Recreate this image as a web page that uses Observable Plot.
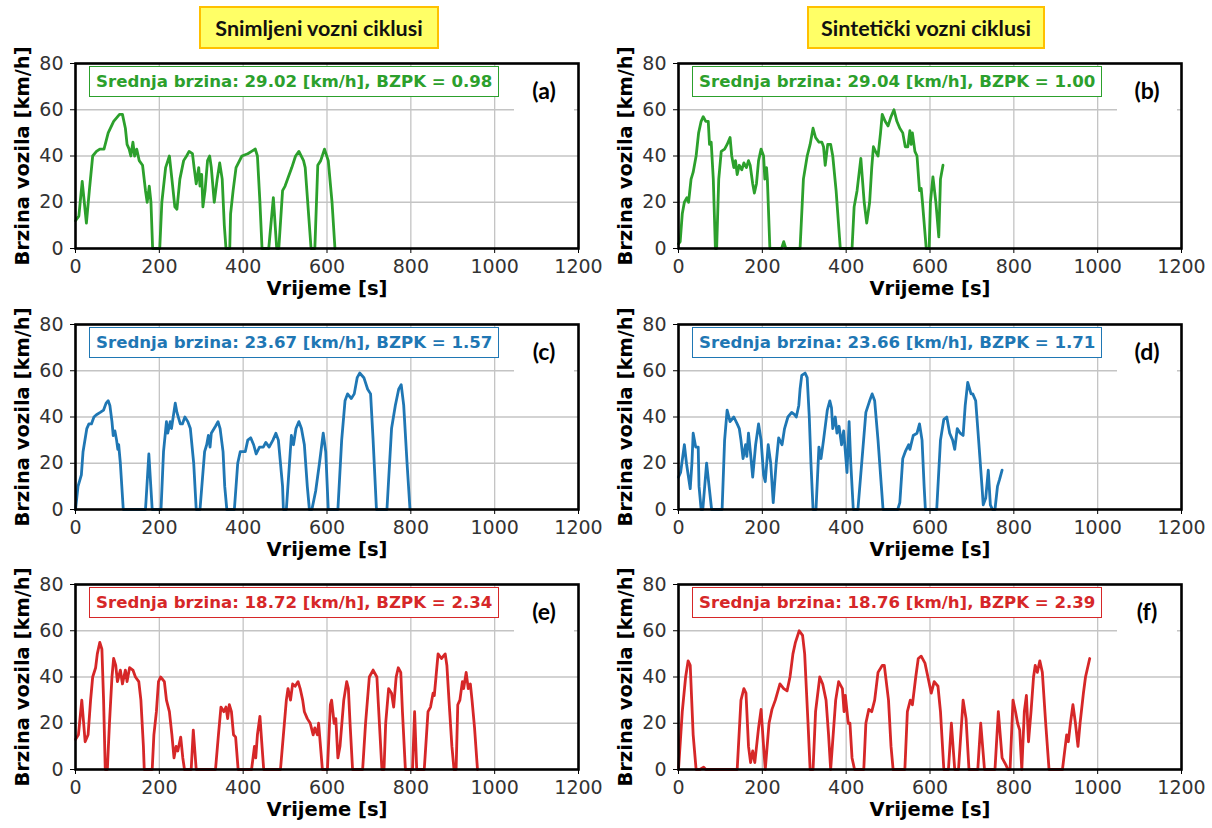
<!DOCTYPE html>
<html><head><meta charset="utf-8">
<script src="https://cdn.jsdelivr.net/npm/d3@7"></script>
<script src="https://cdn.jsdelivr.net/npm/@observablehq/plot@0.6"></script>
<style>
body{margin:0;background:#fff;}
#root{position:relative;width:1212px;height:828px;overflow:hidden;font-family:"DejaVu Sans";}
.hdr{position:absolute;top:6px;height:43px;box-sizing:border-box;border:2px solid #ffc000;background:#ffff66;font-family:Lato;font-weight:bold;font-size:21.5px;color:#111;display:flex;align-items:center;justify-content:center;}
.panel{position:absolute;}
.stat{position:absolute;background:#fff;border:1.5px solid;font-family:"DejaVu Sans";font-weight:bold;font-size:16.6px;height:31px;line-height:29px;box-sizing:border-box;padding:0 6px;white-space:nowrap;}
.tag{position:absolute;background:#fff;font-family:Lato;font-weight:bold;font-size:23px;color:#000;display:flex;align-items:center;justify-content:center;}
</style></head>
<body><div id="root"></div>
<script>
// ---- data (time [s], speed [km/h]) ----
const cycleA = [[0,12],[8,14],[16,29],[21,20],[26,11],[33,25],[41,40],[50,42],[58,43],[68,43],[78,50],[91,55],[105,58],[112,58],[119,52],[123,45],[128,43],[132,40],[137,46],[141,40],[146,43],[152,38],[160,36],[167,25],[171,20],[176,27],[180,20],[184,0],[201,0],[206,20],[215,35],[224,40],[230,30],[237,18],[242,17],[249,30],[258,38],[265,40],[271,42],[279,41],[283,35],[288,28],[294,35],[297,27],[301,32],[304,18],[309,25],[315,38],[320,40],[324,35],[331,20],[338,30],[344,37],[350,30],[355,10],[359,0],[368,0],[370,15],[376,25],[383,35],[397,40],[411,41],[420,42],[429,43],[434,40],[440,20],[445,0],[461,0],[472,22],[480,0],[485,0],[494,25],[500,27],[516,35],[525,40],[533,42],[544,38],[548,35],[562,0],[571,0],[578,36],[585,38],[594,43],[603,38],[612,20],[619,0]];
const cycleB = [[0,2],[4,3],[9,15],[14,20],[20,22],[24,20],[30,30],[35,33],[42,40],[48,50],[54,55],[59,57],[65,55],[71,55],[74,45],[78,46],[83,30],[88,0],[91,0],[96,30],[102,42],[110,43],[116,45],[123,48],[127,40],[132,35],[136,38],[140,32],[145,36],[151,34],[156,37],[162,35],[167,38],[171,36],[177,28],[181,24],[186,28],[191,38],[197,43],[203,40],[206,30],[210,35],[212,30],[218,0],[246,0],[251,3],[256,0],[290,0],[298,30],[307,40],[314,45],[321,52],[327,48],[335,46],[342,46],[346,44],[350,36],[356,45],[363,45],[368,40],[376,25],[386,0],[414,0],[419,18],[426,25],[435,39],[443,20],[449,11],[456,20],[461,35],[465,44],[470,42],[476,40],[482,50],[486,58],[493,55],[500,53],[507,57],[514,60],[521,55],[528,52],[535,50],[541,44],[547,44],[552,51],[555,45],[558,50],[564,42],[569,40],[575,25],[579,26],[582,20],[591,0],[598,0],[601,20],[607,31],[614,20],[621,5],[625,30],[631,36]];
const cycleC = [[0,0],[6,10],[14,15],[18,25],[27,35],[32,37],[38,37],[44,40],[50,41],[59,42],[67,43],[73,46],[78,47],[82,45],[87,38],[90,32],[94,34],[98,30],[101,26],[103,28],[107,20],[114,0],[167,0],[175,24],[183,0],[204,0],[210,25],[217,38],[220,33],[226,38],[229,35],[238,46],[242,42],[250,37],[255,37],[261,40],[268,38],[274,35],[282,20],[288,0],[297,0],[308,25],[313,28],[317,32],[321,27],[324,33],[334,36],[340,38],[345,35],[352,25],[356,10],[361,0],[379,0],[387,20],[393,25],[405,25],[411,30],[418,31],[425,28],[431,24],[439,27],[448,27],[454,29],[462,27],[471,30],[478,33],[484,30],[494,10],[496,0],[503,0],[515,32],[520,28],[526,35],[533,38],[539,35],[546,28],[553,10],[558,0],[564,0],[573,8],[582,20],[591,33],[597,25],[603,0],[626,0],[635,30],[643,47],[649,50],[658,48],[665,50],[672,57],[678,59],[688,57],[697,52],[704,50],[710,30],[718,0],[743,0],[754,35],[763,45],[771,52],[777,54],[783,45],[791,20],[798,0]];
const cycleD = [[0,14],[5,16],[14,28],[19,20],[23,15],[28,9],[32,20],[35,33],[41,27],[47,27],[49,10],[54,0],[58,0],[67,20],[73,10],[79,0],[104,0],[110,30],[116,43],[123,38],[132,40],[140,37],[145,35],[149,30],[154,22],[160,28],[163,23],[167,33],[172,24],[177,14],[184,28],[191,37],[197,30],[203,15],[207,12],[214,28],[220,20],[226,3],[233,20],[239,31],[247,28],[253,35],[261,40],[270,42],[277,41],[281,40],[287,45],[290,52],[294,58],[302,59],[307,57],[312,40],[316,20],[321,0],[328,0],[335,27],[340,22],[346,30],[355,43],[361,47],[365,44],[368,35],[374,40],[378,33],[383,36],[389,28],[394,34],[398,25],[402,16],[407,38],[411,20],[417,0],[428,0],[447,42],[456,47],[462,50],[468,47],[476,30],[484,10],[488,0],[523,0],[528,3],[535,22],[541,25],[549,28],[552,26],[560,32],[569,33],[575,37],[581,30],[586,10],[589,0],[616,0],[625,30],[633,39],[640,40],[647,33],[654,30],[659,26],[665,35],[672,33],[679,32],[684,45],[690,55],[698,50],[702,50],[709,47],[716,30],[724,10],[727,2],[733,5],[739,17],[744,2],[749,0],[755,0],[761,10],[766,13],[772,17]];
const cycleE = [[0,13],[7,15],[15,30],[23,12],[30,15],[36,30],[41,40],[48,44],[52,50],[58,55],[63,52],[67,30],[71,0],[76,0],[81,20],[87,40],[91,48],[96,45],[100,38],[107,43],[112,37],[119,43],[123,38],[129,44],[137,43],[143,40],[151,38],[156,30],[162,10],[164,0],[183,0],[187,15],[193,25],[198,38],[203,40],[212,38],[217,30],[224,25],[230,15],[235,5],[240,10],[244,8],[251,14],[256,5],[260,0],[276,0],[281,17],[288,0],[334,0],[341,15],[347,27],[354,25],[359,27],[363,22],[367,28],[372,25],[377,15],[382,14],[388,0],[420,0],[427,10],[430,5],[434,15],[440,23],[445,10],[449,0],[489,0],[503,30],[507,35],[513,30],[518,37],[524,36],[531,38],[536,35],[542,30],[546,25],[553,22],[560,20],[567,15],[571,18],[577,15],[580,20],[589,0],[601,0],[608,28],[611,30],[617,20],[621,22],[626,5],[631,10],[640,30],[647,38],[651,35],[655,20],[661,0],[685,0],[692,20],[701,40],[710,43],[719,40],[725,20],[731,0],[736,0],[740,20],[747,35],[754,33],[759,27],[765,40],[770,44],[776,42],[780,25],[787,0],[804,0],[809,25],[814,0],[832,0],[841,25],[847,27],[853,33],[856,32],[860,40],[865,50],[873,48],[882,50],[886,45],[891,30],[898,10],[903,0],[908,0],[912,28],[917,30],[923,38],[926,35],[932,42],[937,35],[942,37],[946,30],[952,18],[959,0]];
const cycleF = [[0,0],[9,25],[17,40],[23,47],[28,45],[35,15],[42,0],[51,0],[60,1],[65,0],[140,0],[149,30],[156,35],[161,33],[167,10],[172,3],[177,8],[182,3],[191,18],[197,26],[203,10],[207,0],[216,20],[223,26],[231,30],[242,37],[251,35],[259,34],[266,40],[273,50],[279,55],[288,60],[296,58],[301,50],[309,20],[314,0],[321,0],[327,25],[337,40],[344,37],[352,30],[358,15],[363,0],[367,10],[375,30],[382,38],[391,35],[395,25],[398,32],[405,20],[409,20],[414,5],[420,0],[442,0],[447,20],[454,26],[461,25],[468,30],[476,42],[486,45],[491,45],[501,30],[507,10],[512,0],[540,0],[546,25],[553,30],[558,28],[566,40],[572,48],[579,49],[588,46],[595,40],[603,33],[610,38],[619,36],[625,25],[633,0],[644,0],[651,20],[659,0],[668,0],[679,30],[686,22],[693,0],[714,0],[721,20],[730,0],[755,0],[763,25],[772,5],[781,2],[786,0],[791,0],[798,30],[804,25],[809,20],[814,17],[819,0],[825,25],[830,32],[835,12],[841,25],[847,40],[851,45],[856,42],[862,47],[868,42],[876,20],[884,0],[916,0],[926,15],[930,12],[935,20],[941,28],[947,20],[953,10],[958,20],[966,33],[971,40],[981,48]];

const panelTags = ["(a)","(b)","(c)","(d)","(e)","(f)"];
const meanSpeeds = [29.02, 29.04, 23.67, 23.66, 18.72, 18.76];
const bzpk = [0.98, 1.00, 1.57, 1.71, 2.34, 2.39];
const lineColors = ["#2ca02c","#2ca02c","#1f77b4","#1f77b4","#d62728","#d62728"];
const columnTitles = ["Snimljeni vozni ciklusi", "Sintetički vozni ciklusi"];
const xTicks = [0,200,400,600,800,1000,1200];
const yTicks = [0,20,40,60,80];
const xLabel = "Vrijeme [s]";
const yLabel = "Brzina vozila [km/h]";

// ---- layout ----
const cycles = [cycleA, cycleB, cycleC, cycleD, cycleE, cycleF];
const frameLefts = [75, 678];
const frameTops = [63, 324, 584];
const FW = 503, FH = 185;
const ML = 75, MR = 25, MT = 10, MB = 62;
const root = document.getElementById("root");

const hdrPos = [{left:199, width:240}, {left:807, width:238}];
columnTitles.forEach((t,i)=>{
  const d = document.createElement("div");
  d.className = "hdr";
  d.style.left = hdrPos[i].left + "px";
  d.style.width = hdrPos[i].width + "px";
  d.textContent = t;
  root.appendChild(d);
});

cycles.forEach((data, i) => {
  const col = i % 2, row = Math.floor(i / 2);
  const fl = frameLefts[col], ft = frameTops[row];
  const color = lineColors[i];
  const chart = Plot.plot({
    width: ML + FW + MR, height: MT + FH + MB,
    marginLeft: ML, marginRight: MR, marginTop: MT, marginBottom: MB,
    style: {fontFamily: "DejaVu Sans", fontSize: "19px", overflow: "visible", background: "transparent"},
    x: {domain: [0, 1200]},
    y: {domain: [0, 80]},
    marks: [
      Plot.gridX(xTicks.slice(1, -1), {stroke: "#c4c4c4", strokeOpacity: 1, strokeWidth: 1.3}),
      Plot.gridY(yTicks.slice(1, -1), {stroke: "#c4c4c4", strokeOpacity: 1, strokeWidth: 1.3}),
      Plot.line(data, {x: d => d[0], y: d => d[1], stroke: color, strokeWidth: 2.8, strokeLinejoin: "round", strokeLinecap: "round"}),
      Plot.frame({stroke: "black", strokeWidth: 2.6}),
      Plot.axisX({ticks: xTicks, tickFormat: d => String(d), tickSize: 5, tickPadding: 6, fill: "#333", stroke: "black", label: null, fontSize: 19}),
      Plot.axisY({ticks: yTicks, tickFormat: d => String(d), tickSize: 5, tickPadding: 7, fill: "#333", stroke: "black", label: null, fontSize: 19}),
      Plot.text([xLabel], {frameAnchor: "bottom", dy: 46, fontSize: 19.5, fontWeight: "bold", fill: "black", text: d => d}),
      Plot.text([yLabel], {frameAnchor: "left", textAnchor: "middle", dx: -53, rotate: -90, fontSize: 19.5, fontWeight: "bold", fill: "black", text: d => d})
    ]
  });
  const wrap = document.createElement("div");
  wrap.className = "panel";
  wrap.style.left = (fl - ML) + "px";
  wrap.style.top = (ft - MT) + "px";
  wrap.appendChild(chart);
  root.appendChild(wrap);

  const s = document.createElement("div");
  s.className = "stat";
  s.style.left = (fl + 14) + "px";
  s.style.top = (ft + 3) + "px";
  s.style.color = color;
  s.style.borderColor = color;
  s.textContent = `Srednja brzina: ${meanSpeeds[i].toFixed(2)} [km/h], BZPK = ${bzpk[i].toFixed(2)}`;
  root.appendChild(s);

  const g = document.createElement("div");
  g.className = "tag";
  g.style.left = (fl + FW - 64) + "px";
  g.style.top = (ft + 4) + "px";
  g.style.width = "60px";
  g.style.height = "46px";
  g.textContent = panelTags[i];
  root.appendChild(g);
});
</script>
</body></html>
